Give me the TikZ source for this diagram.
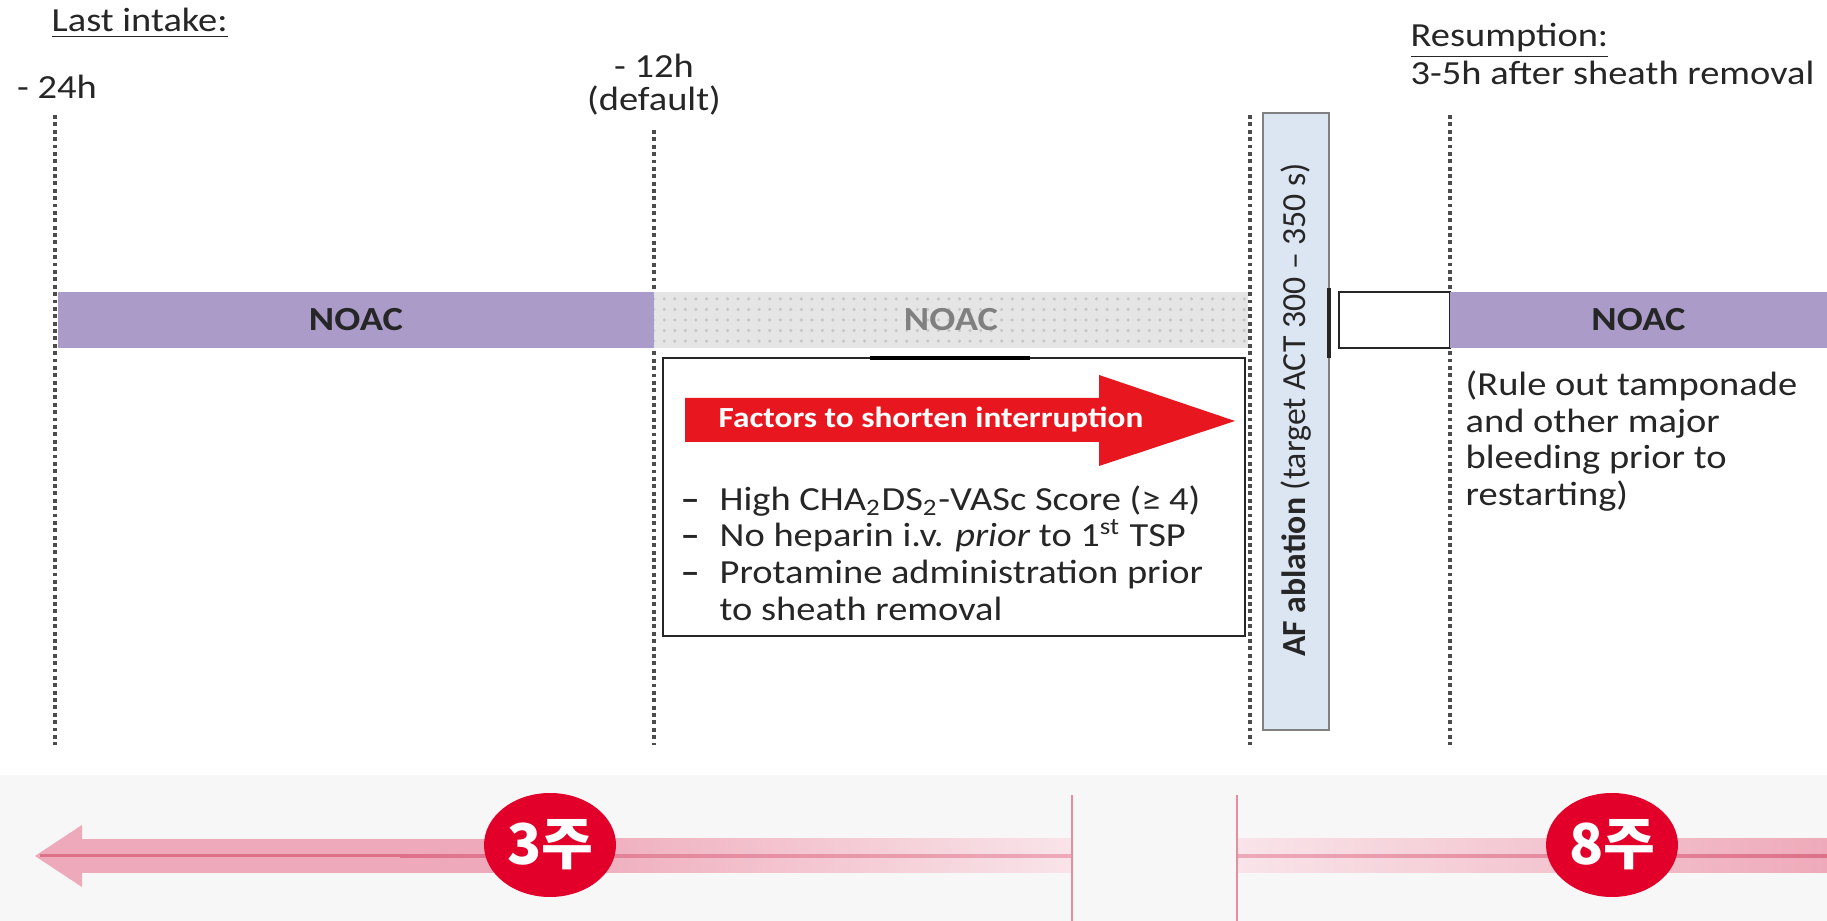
\documentclass[tikz,border=0pt]{standalone}
\usepackage{fontspec}
\setmainfont{Carlito}[FakeStretch=1.14]
\newfontfamily\uprfont{Carlito}
\newfontfamily\kofont{Noto Sans CJK KR}
\usepackage{xcolor}
\definecolor{noacpurple}{RGB}{170,155,200}
\definecolor{ablblue}{RGB}{220,230,242}
\definecolor{arrred}{RGB}{232,22,30}
\definecolor{badgered}{RGB}{226,0,43}
\definecolor{wkpink}{RGB}{238,170,186}
\definecolor{wkpale}{RGB}{249,228,233}
\definecolor{wkrose}{RGB}{222,112,138}
\definecolor{bandgrey}{RGB}{247,247,247}
\definecolor{txtgrey}{RGB}{38,38,38}
\usetikzlibrary{arrows.meta,positioning,shapes.geometric,patterns}

\begin{document}
\begin{tikzpicture}[
        vline/.style={densely dotted, line width=1.1pt, black!70},
        hdr/.style={anchor=west, inner sep=0pt, font=\fontsize{9.6}{10.4}\selectfont, text=txtgrey},
        tick/.style={align=center, inner sep=0pt, font=\fontsize{9.6}{9.4}\selectfont, text=txtgrey},
        noacbar/.style={rectangle, fill=noacpurple, minimum height=0.56cm, inner sep=0pt,
                        font=\fontsize{9.6}{11}\selectfont\bfseries, text=txtgrey},
        greybar/.style={noacbar, fill=black!10, text=black!50},
        emptybox/.style={rectangle, draw=black!85, line width=0.5pt, fill=white,
                         minimum height=0.56cm, inner sep=0pt},
        factbox/.style={rectangle, draw=black!85, line width=0.5pt, inner sep=0pt},
        ablbar/.style={rectangle, fill=ablblue, draw=black!50, line width=0.6pt, inner sep=0pt},
        note/.style={align=left, anchor=west, inner sep=0pt, font=\fontsize{9.6}{10.4}\selectfont, text=txtgrey},
        badge/.style={ellipse, fill=badgered, minimum width=1.32cm, minimum height=1.04cm, inner sep=0pt,
                      text=white, font=\kofont\bfseries\fontsize{16}{16}\selectfont},
        weekmark/.style={line width=0.6pt, draw=wkrose!80}
      ]
        \fill[white] (0,0) rectangle (18.27,9.21);
        \useasboundingbox (0,0) rectangle (18.27,9.21);

        % headers
        \node[hdr] (lastin) at (0.51,8.98) {\underline{Last intake:}};
        \node[tick] (m24) at (0.57,8.34) {- 24h};
        \node[tick] (m12) at (6.54,8.365) {- 12h\\(default)};
        \node[hdr] (resume) at (14.10,8.80) {\underline{Resumption:}};
        \node[hdr] (resumet) at (14.10,8.48) {3-5h after sheath removal};

        % time marks
        \draw[vline] (0.55,8.06) -- (0.55,1.76);
        \draw[vline] (6.54,7.91) -- (6.54,1.76);
        \draw[vline] (12.50,8.06) -- (12.50,1.76);
        \draw[vline] (14.50,8.06) -- (14.50,1.76);

        % NOAC bars
        \node[noacbar, minimum width=5.96cm] (noac1) at (3.56,6.01) {NOAC};
        \node[greybar, minimum width=5.94cm, postaction={pattern=dots, pattern color=black!22}] (noac2) at (9.51,6.01) {NOAC};
        \node[emptybox, minimum width=1.11cm] (gap) at (13.945,6.01) {};
        \node[noacbar, minimum width=3.77cm] (noac3) at (16.385,6.01) {NOAC};

        % ablation
        \node[ablbar, minimum width=0.66cm, minimum height=6.17cm] (abl) at (12.96,4.995) {};
        \node[rotate=90, inner sep=0pt, font=\uprfont\fontsize{9.6}{11}\selectfont, text=txtgrey] (abltxt) at (12.96,5.11)
            {\textbf{AF ablation} (target ACT 300 – 350 s)};
        \draw[line width=1pt, black!85] (13.29,6.33) -- (13.29,5.63);

        % factors box
        \node[factbox, minimum width=5.82cm, minimum height=2.78cm] (facts) at (9.54,4.24) {};
        \draw[line width=1.3pt, black] (8.70,5.63) -- (10.30,5.63);
        \fill[arrred] (6.85,5.23) -- (10.99,5.23) -- (10.99,5.46) -- (12.35,5.00)
                      -- (10.99,4.55) -- (10.99,4.79) -- (6.85,4.79) -- cycle;
        \node[anchor=west, inner sep=0pt, text=white, font=\fontsize{8.3}{9}\selectfont\bfseries] (shorten) at (7.18,5.01)
            {Factors to shorten interruption};
        \node[note] (risks) at (6.80,3.68)
            {\makebox[0.39cm][l]{\textbf{–}}High CHA\textsubscript{2}DS\textsubscript{2}-VASc Score (≥ 4)\\
             \makebox[0.39cm][l]{\textbf{–}}No heparin i.v. \textit{prior} to 1\textsuperscript{st} TSP\\
             \makebox[0.39cm][l]{\textbf{–}}Protamine administration prior\\
             \hspace*{0.39cm}to sheath removal};

        \node[note] (ruleout) at (14.65,4.80)
            {(Rule out tamponade\\and other major\\bleeding prior to\\restarting)};

        % weeks band
        \fill[bandgrey] (0,0) rectangle (18.27,1.46);
        \fill[wkpink] (0.82,0.48) rectangle (5.50,0.82);
        \shade[left color=wkpink, right color=wkpale] (5.50,0.48) rectangle (10.72,0.82);
        \fill[wkpink] (0.35,0.65) -- (0.82,0.96) -- (0.82,0.34) -- cycle;
        \fill[wkrose] (0.40,0.635) rectangle (4.00,0.665);
        \shade[left color=wkrose, right color=wkpink] (4.00,0.635) rectangle (10.72,0.665);
        \shade[left color=wkpale, right color=wkpink] (12.37,0.48) rectangle (18.27,0.82);
        \shade[left color=wkpink, right color=wkrose] (12.37,0.635) rectangle (18.27,0.665);
        \draw[weekmark] (10.72,0) -- (10.72,1.26);
        \draw[weekmark] (12.37,0) -- (12.37,1.26);
        \node[badge] (wk3) at (5.50,0.76) {3주};
        \node[badge] (wk8) at (16.12,0.76) {8주};
      \end{tikzpicture}
\end{document}
